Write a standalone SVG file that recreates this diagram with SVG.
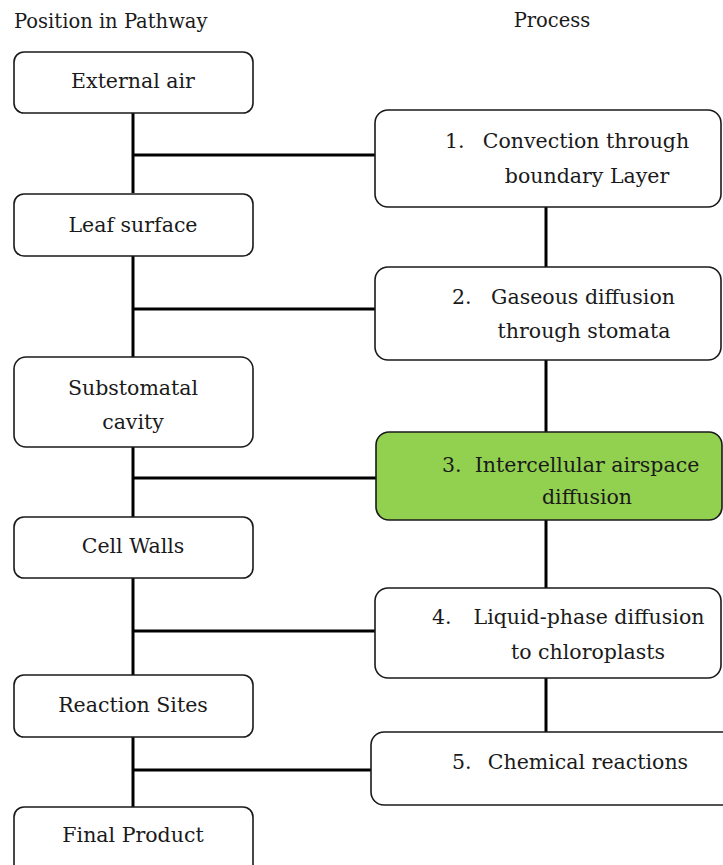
<svg xmlns="http://www.w3.org/2000/svg" width="723" height="865" viewBox="0 0 723 865">
<style>
.bg{fill:#ffffff}
.box{fill:#ffffff;stroke:#1a1a1a;stroke-width:1.6}
.hl{fill:#92D050;stroke:#1a1a1a;stroke-width:1.6}
.conn{stroke:#000000;stroke-width:3;fill:none}
text{font-family:"DejaVu Serif","Liberation Serif",serif;font-size:20.5px;fill:#1a1a1a}
.c{text-anchor:middle}
.hdr{font-size:19.5px}
</style>
<rect class="bg" x="0" y="0" width="723" height="865"/>
<text class="hdr" x="14" y="28">Position in Pathway</text>
<text class="hdr c" x="552" y="27">Process</text>
<g id="connectors">
<line class="conn" x1="133" y1="113" x2="133" y2="193"/>
<line class="conn" x1="133" y1="256" x2="133" y2="357"/>
<line class="conn" x1="133" y1="447" x2="133" y2="517"/>
<line class="conn" x1="133" y1="578" x2="133" y2="675"/>
<line class="conn" x1="133" y1="737" x2="133" y2="807"/>
<line class="conn" x1="133" y1="155" x2="375" y2="155"/>
<line class="conn" x1="133" y1="309" x2="375" y2="309"/>
<line class="conn" x1="133" y1="478" x2="376" y2="478"/>
<line class="conn" x1="133" y1="631" x2="375" y2="631"/>
<line class="conn" x1="133" y1="770" x2="371" y2="770"/>
<line class="conn" x1="546" y1="207" x2="546" y2="267"/>
<line class="conn" x1="546" y1="360" x2="546" y2="432"/>
<line class="conn" x1="546" y1="520" x2="546" y2="588"/>
<line class="conn" x1="546" y1="678" x2="546" y2="732"/>
</g>
<g id="external-air">
<rect class="box" x="14" y="52" width="239" height="61" rx="10"/>
<text class="c" x="133" y="88">External air</text>
</g>
<g id="leaf-surface">
<rect class="box" x="14" y="194" width="239" height="62" rx="10"/>
<text class="c" x="133" y="232">Leaf surface</text>
</g>
<g id="substomatal-cavity">
<rect class="box" x="14" y="357" width="239" height="90" rx="12"/>
<text class="c" x="133" y="395">Substomatal</text>
<text class="c" x="133" y="429">cavity</text>
</g>
<g id="cell-walls">
<rect class="box" x="14" y="517" width="239" height="61" rx="10"/>
<text class="c" x="133" y="553">Cell Walls</text>
</g>
<g id="reaction-sites">
<rect class="box" x="14" y="675" width="239" height="62" rx="10"/>
<text class="c" x="133" y="712">Reaction Sites</text>
</g>
<g id="final-product">
<rect class="box" x="14" y="807" width="239" height="80" rx="10"/>
<text class="c" x="133" y="842">Final Product</text>
</g>
<g id="p1">
<rect class="box" x="375" y="110" width="346" height="97" rx="13"/>
<text x="445" y="148">1.</text>
<text class="c" x="586" y="148">Convection through</text>
<text class="c" x="587" y="183">boundary Layer</text>
</g>
<g id="p2">
<rect class="box" x="375" y="267" width="346" height="93" rx="13"/>
<text x="452" y="304">2.</text>
<text class="c" x="583" y="304">Gaseous diffusion</text>
<text class="c" x="584" y="338">through stomata</text>
</g>
<g id="p3">
<rect class="hl" x="376" y="432" width="346" height="88" rx="13"/>
<text x="442" y="472">3.</text>
<text class="c" x="587" y="472">Intercellular airspace</text>
<text class="c" x="587" y="504">diffusion</text>
</g>
<g id="p4">
<rect class="box" x="375" y="588" width="346" height="90" rx="13"/>
<text x="432" y="624">4.</text>
<text class="c" x="589" y="624">Liquid-phase diffusion</text>
<text class="c" x="588" y="659">to chloroplasts</text>
</g>
<g id="p5">
<rect class="box" x="371" y="732" width="370" height="73" rx="13"/>
<text x="452" y="769">5.</text>
<text class="c" x="588" y="769">Chemical reactions</text>
</g>
</svg>
